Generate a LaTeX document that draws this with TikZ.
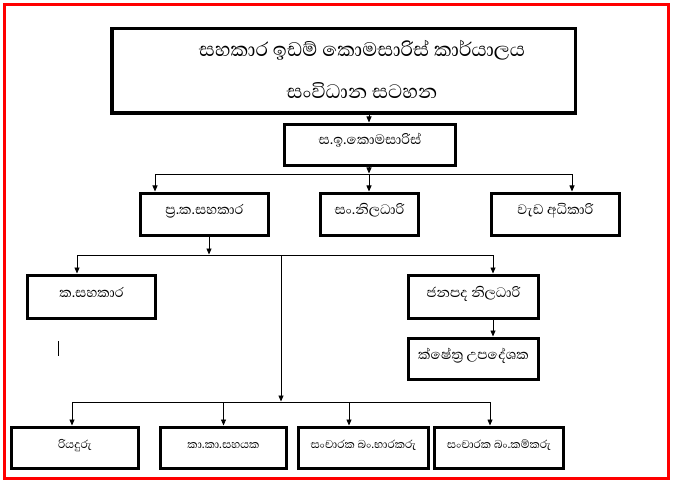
\documentclass[tikz,border=0pt]{standalone}
\usepackage{fontspec}
\newfontfamily\sinhala[Script=Sinhala]{Abhaya Libre}
\usetikzlibrary{arrows.meta}

\begin{document}
\begin{tikzpicture}[x=1pt, y=-1pt,
    box/.style={draw, line width=3pt, minimum height=41pt, inner sep=0pt,
        text height=7pt, text depth=7pt, font=\sinhala\fontsize{17.5}{20}\selectfont},
    lowbox/.style={box, font=\sinhala\fontsize{14.5}{17}\selectfont},
    arr/.style={line width=0.8pt, shorten >=0.5pt, -{Triangle[length=6pt,width=5pt]}}]
    \useasboundingbox (0,0) rectangle (675,484);
    \draw[red, line width=3pt] (4,5) rectangle (668,478);

    \node[box, minimum width=463.5pt, minimum height=84.5pt, line width=3.5pt] (title) at (343.5,71) {};
    \node[font=\sinhala\fontsize{25}{42}\selectfont, align=center] (heading) at (362,69)
        {සහකාර ඉඩම් කොමසාරිස් කාර්යාලය\\සංවිධාන සටහන};
    \node[box, minimum width=171pt] (sik) at (370,145) {ස.ඉ.කොමසාරිස්};
    \node[box, minimum width=128pt, minimum height=42pt] (prk) at (204.5,214.5) {ප්^^^^200dර.ක.සහකාර};
    \node[box, minimum width=98pt, minimum height=42pt] (sanl) at (369.5,214.5) {සං.නිලධාරි};
    \node[box, minimum width=128pt, minimum height=42pt] (wada) at (555.5,214.5) {වැඩ අධිකාරි};
    \node[box, minimum width=128pt, minimum height=43pt] (ksah) at (91.5,297) {ක.සහකාර};
    \node[box, minimum width=130pt, minimum height=43pt] (janp) at (473.5,297) {ජනපද නිලධාරි};
    \node[box, minimum width=130pt] (kshe) at (473.5,359) {ක්ෂේත්^^^^200dර උපදේශක};
    \node[lowbox, minimum width=127pt] (riya) at (75,448) {රියදුරු};
    \node[lowbox, minimum width=126pt] (kaka) at (223.5,448) {කා.කා.සහයක};
    \node[lowbox, minimum width=130pt] (sbh) at (363.5,448) {සංචාරක බං.භාරකරු};
    \node[lowbox, minimum width=129pt] (sbk) at (499,448) {සංචාරක බං.කම්කරු};

    \coordinate (j1) at (369,174);
    \coordinate (j2) at (209,255);
    \coordinate (j3) at (281,255);
    \coordinate (j4) at (281,402);

    \draw[arr] (title.south -| j1) -- (sik.north -| j1);
    \draw[arr] (sik.south -| j1) -- (j1);
    \draw[arr] (j1) -| ([xshift=-49.5pt]prk.north);
    \draw[arr] (j1) -- (sanl.north -| j1);
    \draw[arr] (j1) -| ([xshift=16.5pt]wada.north);
    \draw[arr] (prk.south -| j2) -- (j2);
    \draw[arr] (j2) -| ([xshift=-14.5pt]ksah.north);
    \draw[arr] (j2) -| ([xshift=19.5pt]janp.north);
    \draw[arr] (j3) -- (j4);
    \draw[arr] ([xshift=19.5pt]janp.south) -- ([xshift=19.5pt]kshe.north);
    \foreach \n/\dx in {riya/-3, kaka/0, sbh/-14.5, sbk/-9}
        \draw[arr] (j4) -| ([xshift=\dx pt]\n.north);
    \draw[line width=0.8pt] (58,341) -- (58,356);
\end{tikzpicture}
\end{document}
